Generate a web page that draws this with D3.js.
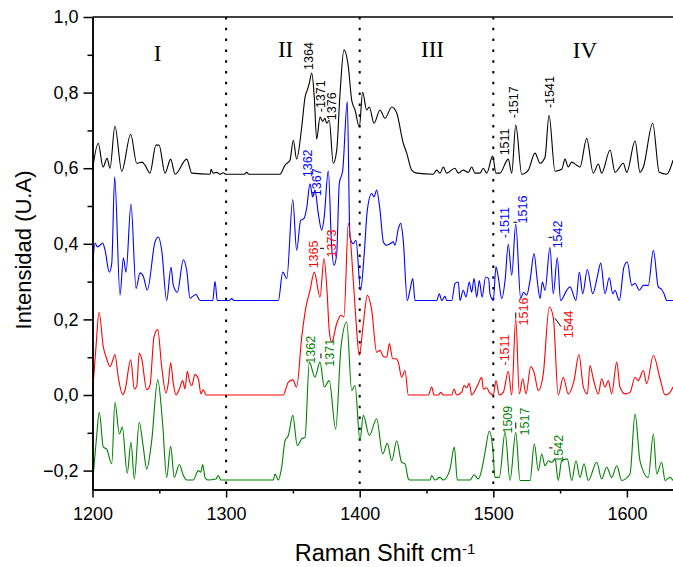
<!DOCTYPE html>
<html>
<head>
<meta charset="utf-8">
<script src="https://cdn.jsdelivr.net/npm/d3@7"></script>
<style>
  body { margin: 0; background: #fff; }
  svg { display: block; font-family: "Liberation Sans", Arial, sans-serif; }
</style>
</head>
<body>
<div id="chart"></div>
<script>
// spectra: [Raman shift (cm-1), intensity (U.A)]
const black = [[1200,0.595],[1204.3,0.666],[1207.9,0.603],[1210.9,0.626],[1213.1,0.600],[1216.8,0.711],[1221.9,0.592],[1228.6,0.690],[1233.1,0.613],[1237.1,0.616],[1239.3,0.608],[1243.0,0.587],[1247.5,0.661],[1249.8,0.661],[1254.3,0.587],[1258.5,0.624],[1261.8,0.584],[1270.5,0.624],[1274.3,0.587],[1288.0,0.584],[1288.7,0.597],[1290.4,0.587],[1293.0,0.589],[1295.4,0.584],[1297.9,0.588],[1299.9,0.584],[1313.4,0.584],[1315.4,0.589],[1317.1,0.584],[1340.3,0.584],[1344.1,0.608],[1347.8,0.621],[1350.3,0.674],[1352.8,0.624],[1356.6,0.709],[1359.1,0.788],[1360.8,0.807],[1362.3,0.825],[1364.1,0.852],[1366.0,0.788],[1367.8,0.677],[1370.3,0.735],[1372.3,0.724],[1374.0,0.732],[1375.3,0.719],[1377.2,0.727],[1380.2,0.613],[1382.8,0.648],[1385.3,0.799],[1388.2,0.913],[1391.5,0.868],[1394.0,0.780],[1396.5,0.754],[1399.7,0.709],[1402.2,0.801],[1405.2,0.754],[1407.2,0.762],[1410.7,0.719],[1415.2,0.754],[1418.9,0.732],[1424.0,0.762],[1427.7,0.746],[1432.6,0.666],[1435.2,0.640],[1438.9,0.595],[1442.7,0.587],[1454.9,0.584],[1457.6,0.595],[1460.1,0.587],[1462.6,0.603],[1465.1,0.587],[1471.3,0.600],[1473.8,0.587],[1477.5,0.595],[1481.3,0.589],[1483.8,0.603],[1486.3,0.587],[1490.0,0.587],[1492.5,0.600],[1495.1,0.587],[1499.5,0.632],[1502.0,0.587],[1504.9,0.587],[1511.2,0.624],[1513.8,0.587],[1516.8,0.714],[1521.3,0.584],[1526.2,0.595],[1531.2,0.640],[1535.0,0.613],[1538.7,0.629],[1541.7,0.740],[1546.2,0.592],[1551.2,0.597],[1553.7,0.624],[1556.1,0.603],[1558.7,0.616],[1562.4,0.608],[1564.9,0.603],[1569.9,0.679],[1574.8,0.587],[1578.6,0.611],[1581.1,0.587],[1587.4,0.648],[1591.1,0.589],[1597.3,0.613],[1599.9,0.589],[1606.1,0.672],[1609.8,0.589],[1612.3,0.603],[1619.3,0.719],[1624.2,0.589],[1629.8,0.584],[1634.5,0.621]];

const blue = [[1200,0.330],[1201.9,0.402],[1203.6,0.392],[1205.6,0.396],[1207.6,0.402],[1209.4,0.383],[1212.6,0.325],[1214.4,0.348],[1216.6,0.577],[1220.6,0.264],[1223.1,0.362],[1225.1,0.325],[1228.8,0.505],[1232.6,0.282],[1235.6,0.323],[1238.0,0.314],[1241.0,0.277],[1246.8,0.405],[1249.3,0.418],[1251.8,0.383],[1255.5,0.250],[1258.8,0.338],[1260.5,0.290],[1263.5,0.272],[1268.0,0.358],[1270.5,0.330],[1273.0,0.256],[1275.0,0.261],[1277.5,0.266],[1280.5,0.250],[1290.0,0.250],[1291.7,0.301],[1293.4,0.250],[1302.2,0.250],[1304.2,0.255],[1305.9,0.250],[1339.1,0.250],[1342.4,0.325],[1343.9,0.317],[1345.4,0.308],[1349.9,0.517],[1352.8,0.383],[1355.8,0.462],[1358.3,0.467],[1360.3,0.494],[1362.8,0.559],[1364.8,0.524],[1366.5,0.542],[1369.0,0.480],[1371.6,0.436],[1373.3,0.467],[1376.5,0.593],[1379.0,0.392],[1380.8,0.343],[1382.8,0.374],[1384.7,0.559],[1387.3,0.595],[1390.7,0.776],[1392.7,0.418],[1395.2,0.400],[1397.2,0.409],[1400.7,0.277],[1403.2,0.365],[1405.7,0.489],[1409.0,0.533],[1410.7,0.524],[1412.7,0.542],[1415.2,0.489],[1417.7,0.405],[1420.2,0.396],[1422.7,0.400],[1425.1,0.405],[1426.4,0.396],[1428.9,0.440],[1430.7,0.454],[1432.6,0.409],[1435.6,0.250],[1437.6,0.277],[1439.7,0.308],[1441.4,0.250],[1457.6,0.250],[1459.6,0.268],[1461.4,0.250],[1463.8,0.261],[1465.1,0.250],[1468.9,0.250],[1471.3,0.295],[1473.8,0.299],[1475.1,0.250],[1477.5,0.277],[1479.6,0.259],[1482.0,0.299],[1483.8,0.272],[1485.6,0.308],[1487.6,0.259],[1489.5,0.303],[1491.6,0.259],[1494.2,0.312],[1496.5,0.308],[1497.5,0.268],[1500.0,0.250],[1502.0,0.339],[1503.7,0.312],[1506.3,0.255],[1508.8,0.303],[1511.2,0.399],[1513.8,0.317],[1516.8,0.452],[1520.5,0.255],[1522.5,0.272],[1525.0,0.264],[1527.5,0.303],[1530.5,0.374],[1532.9,0.303],[1535.0,0.255],[1536.7,0.299],[1538.7,0.277],[1542.4,0.390],[1544.9,0.268],[1547.9,0.363],[1550.4,0.250],[1554.9,0.277],[1557.4,0.286],[1561.9,0.250],[1564.4,0.325],[1566.9,0.268],[1570.4,0.332],[1574.4,0.268],[1577.8,0.312],[1580.4,0.349],[1583.6,0.268],[1586.8,0.310],[1589.4,0.268],[1591.1,0.277],[1594.3,0.250],[1597.8,0.339],[1600.3,0.352],[1603.6,0.290],[1606.1,0.295],[1609.3,0.277],[1612.3,0.290],[1616.0,0.290],[1619.8,0.383],[1623.5,0.286],[1626.0,0.279],[1627.8,0.268],[1629.8,0.250],[1634.5,0.250]];

const red = [[1200,0.005],[1202.6,0.127],[1204.9,0.219],[1208.1,0.127],[1210.6,0.096],[1213.1,0.075],[1215.1,0.091],[1216.8,0.107],[1219.3,0.047],[1222.6,0.001],[1224.3,0.012],[1228.6,0.093],[1231.3,0.016],[1233.1,0.023],[1235.0,0.111],[1236.8,0.096],[1240.6,0.014],[1243.0,0.025],[1246.0,0.153],[1248.8,0.173],[1251.8,0.074],[1255.0,0.005],[1256.7,0.030],[1258.5,0.085],[1260.5,0.030],[1262.5,0.0],[1265.0,0.016],[1267.5,0.038],[1269.2,0.016],[1271.0,0.063],[1272.5,0.038],[1274.3,0.025],[1276.7,0.054],[1279.2,0.043],[1281.2,0.003],[1282.9,0.014],[1285.0,0.0],[1342.8,0.0],[1346.6,0.034],[1349.9,0.040],[1352.8,0.021],[1356.6,0.153],[1359.8,0.233],[1362.8,0.277],[1366.0,0.325],[1370.3,0.259],[1373.3,0.361],[1375.5,0.277],[1377.2,0.171],[1379.0,0.140],[1382.8,0.189],[1386.0,0.211],[1388.2,0.206],[1391.5,0.454],[1395.2,0.303],[1397.2,0.197],[1399.7,0.105],[1402.7,0.189],[1405.7,0.264],[1409.0,0.224],[1412.7,0.113],[1415.2,0.118],[1417.7,0.102],[1420.2,0.100],[1422.2,0.136],[1424.7,0.096],[1427.2,0.096],[1428.9,0.087],[1431.4,0.047],[1433.9,0.065],[1436.4,0.0],[1451.3,0.0],[1453.9,0.021],[1455.6,0.0],[1458.8,0.0],[1460.6,0.007],[1462.6,0.0],[1468.9,0.0],[1470.6,0.016],[1472.6,0.0],[1476.3,0.007],[1478.1,0.025],[1480.1,0.019],[1482.0,0.031],[1483.8,0.0],[1486.3,0.012],[1488.8,0.030],[1491.3,0.047],[1492.5,0.016],[1495.1,0.019],[1497.0,0.007],[1500.0,0.0],[1502.0,0.038],[1504.5,0.0],[1507.5,0.007],[1511.2,0.063],[1513.8,0.0],[1516.8,0.202],[1519.5,0.003],[1522.0,0.043],[1524.5,0.003],[1528.0,0.075],[1530.5,0.060],[1533.7,0.012],[1537.4,0.056],[1541.9,0.233],[1544.9,0.206],[1548.6,0.0],[1552.4,0.047],[1556.1,0.003],[1560.4,0.038],[1564.1,0.107],[1567.4,0.021],[1570.4,0.003],[1572.4,0.078],[1574.8,0.043],[1578.6,0.003],[1581.1,0.043],[1583.6,0.021],[1586.1,0.038],[1588.6,0.003],[1592.4,0.087],[1594.8,0.021],[1598.6,0.003],[1602.3,0.007],[1606.1,0.047],[1608.5,0.038],[1612.3,0.065],[1614.8,0.030],[1619.8,0.105],[1624.8,0.043],[1628.6,0.0],[1632.3,0.007],[1634.5,0.021]];

const green = [[1200,-0.234],[1202.8,-0.121],[1205.1,-0.046],[1208.1,-0.138],[1210.6,-0.143],[1214.4,-0.182],[1216.8,-0.019],[1220.1,-0.103],[1222.3,-0.085],[1226.0,-0.207],[1228.8,-0.125],[1231.3,-0.222],[1235.0,-0.072],[1238.0,-0.138],[1240.6,-0.196],[1244.3,-0.121],[1248.8,0.040],[1252.5,-0.076],[1255.5,-0.218],[1258.5,-0.136],[1261.2,-0.218],[1265.0,-0.184],[1268.0,-0.213],[1270.5,-0.225],[1275.4,-0.225],[1279.2,-0.200],[1281.0,-0.204],[1282.5,-0.184],[1284.2,-0.218],[1286.4,-0.225],[1292.4,-0.222],[1294.2,-0.213],[1296.0,-0.225],[1335.3,-0.225],[1336.6,-0.209],[1339.1,-0.225],[1341.6,-0.191],[1344.1,-0.121],[1346.6,-0.107],[1349.9,-0.054],[1353.3,-0.134],[1356.6,-0.116],[1359.1,-0.112],[1362.3,0.087],[1366.5,0.047],[1370.3,0.087],[1373.5,0.021],[1377.2,0.038],[1382.0,-0.090],[1386.0,0.127],[1390.3,0.193],[1394.0,0.012],[1396.5,0.025],[1400.2,-0.121],[1402.7,-0.054],[1407.2,-0.107],[1412.7,-0.063],[1417.2,-0.156],[1420.7,-0.128],[1424.0,-0.174],[1427.7,-0.121],[1431.4,-0.178],[1433.9,-0.182],[1436.4,-0.222],[1437.6,-0.225],[1452.6,-0.225],[1453.9,-0.213],[1456.4,-0.225],[1460.1,-0.218],[1462.6,-0.225],[1467.6,-0.196],[1470.8,-0.138],[1473.1,-0.225],[1482.6,-0.225],[1485.6,-0.211],[1488.8,-0.222],[1491.5,-0.195],[1493.8,-0.152],[1497.0,-0.096],[1499.5,-0.138],[1501.3,-0.218],[1504.5,-0.218],[1508.8,-0.099],[1512.5,-0.226],[1516.8,-0.099],[1520.0,-0.226],[1527.5,-0.226],[1530.7,-0.129],[1533.7,-0.200],[1536.2,-0.156],[1538.7,-0.187],[1541.2,-0.174],[1543.7,-0.178],[1546.2,-0.169],[1548.6,-0.226],[1551.2,-0.174],[1555.4,-0.169],[1558.7,-0.226],[1561.9,-0.174],[1564.9,-0.218],[1567.9,-0.182],[1571.1,-0.226],[1577.4,-0.178],[1581.1,-0.222],[1584.9,-0.191],[1588.6,-0.218],[1592.4,-0.187],[1596.1,-0.226],[1602.3,-0.209],[1606.1,-0.050],[1609.8,-0.174],[1616.0,-0.218],[1619.8,-0.103],[1622.3,-0.209],[1626.0,-0.178],[1628.6,-0.226],[1632.3,-0.218],[1634.5,-0.226]];

// peak labels: [text, shift, intensity at label foot, colour]
const peakLabels = [
  ["1364", 1362.1, 0.860, "black"], ["-1371", 1371.0, 0.748, "black"], ["1376", 1379.2, 0.727, "black"],
  ["1511", 1508.8, 0.634, "black"], ["-1517", 1515.5, 0.732, "black"], ["-1541", 1542.1, 0.759, "black"],
  ["1362", 1360.9, 0.576, "blue"], ["1367", 1368.0, 0.526, "blue"], ["-1511", 1508.4, 0.415, "blue"],
  ["1516", 1522.2, 0.454, "blue"], ["1542", 1548.4, 0.388, "blue"],
  ["1365", 1365.4, 0.335, "red"], ["1373", 1379.3, 0.364, "red"], ["-1511", 1508.8, 0.078, "red"],
  ["1516", 1522.6, 0.184, "red"], ["1544", 1556.7, 0.150, "red"],
  ["1362", 1363.2, 0.083, "green"], ["1371", 1377.8, 0.075, "green"], ["1509", 1510.6, -0.102, "green"],
  ["1517", 1523.4, -0.107, "green"], ["1542", 1548.8, -0.179, "green"]
];

// short black leader strokes: [x1, y1, x2, y2] in data units
const leaders = [
  [1515.0, 0.457, 1518.0, 0.457], [1541.3, 0.417, 1544.3, 0.417],
  [1370.3, 0.388, 1373.3, 0.388], [1516.8, 0.218, 1516.8, 0.203],
  [1546.2, 0.203, 1550.7, 0.181], [1371.0, 0.110, 1371.0, 0.097],
  [1516.8, -0.073, 1516.8, -0.089], [1541.7, -0.140, 1544.4, -0.140]
];

const regionNames = ["I", "II", "III", "IV"];
const regionPos = [[1248.7, 0.883], [1344.5, 0.894], [1454.5, 0.894], [1568.6, 0.891]];
const dividers = [1300, 1400, 1500];

const xMajor = [1200, 1300, 1400, 1500, 1600];
const xMinor = [1250, 1350, 1450, 1550];
const yMajor = [-0.2, 0, 0.2, 0.4, 0.6, 0.8, 1.0];
const yMinor = [-0.1, 0.1, 0.3, 0.5, 0.7, 0.9];

const series = [
  { name: "black", values: black, color: "#000000" },
  { name: "blue", values: blue, color: "#0000ff" },
  { name: "red", values: red, color: "#ff0000" },
  { name: "green", values: green, color: "#008000" }
];

const width = 673, height = 567;
const svg = d3.select("#chart").append("svg")
  .attr("width", width)
  .attr("height", height);

const x = d3.scaleLinear().domain([1200, 1634.5]).range([92.5, 673]);
const y = d3.scaleLinear().domain([-0.25, 1.0]).range([489.5, 17]);

const fmtY = v => d3.format(".1f")(v).replace(".", ",");

// region dividers
svg.selectAll(".divider")
  .data(dividers)
  .enter().append("line")
  .attr("class", "divider")
  .attr("x1", d => x(d)).attr("x2", d => x(d))
  .attr("y1", y(1.0)).attr("y2", y(-0.25))
  .attr("stroke", "#000")
  .attr("stroke-width", 2)
  .attr("stroke-dasharray", "2.5,8.3");

// spectra
const line = d3.line()
  .x(d => x(d[0]))
  .y(d => y(d[1]))
  .curve(d3.curveMonotoneX);

svg.selectAll(".spectrum")
  .data(series)
  .enter().append("path")
  .attr("class", "spectrum")
  .attr("fill", "none")
  .attr("stroke", d => d.color)
  .attr("stroke-width", 1.1)
  .attr("d", d => line(d.values));

// axes
svg.append("g")
  .attr("transform", "translate(" + x(1200) + ",0)")
  .call(d3.axisLeft(y).tickValues(yMajor).tickSize(9).tickSizeOuter(0).tickPadding(5).tickFormat(fmtY));
svg.append("g")
  .attr("transform", "translate(" + x(1200) + ",0)")
  .call(d3.axisLeft(y).tickValues(yMinor).tickSize(5).tickSizeOuter(0).tickFormat(""));

svg.append("g")
  .attr("transform", "translate(0," + y(-0.25) + ")")
  .call(d3.axisBottom(x).tickValues(xMajor).tickSize(8).tickSizeOuter(0).tickPadding(10).tickFormat(d3.format("d")));
svg.append("g")
  .attr("transform", "translate(0," + y(-0.25) + ")")
  .call(d3.axisBottom(x).tickValues(xMinor).tickSize(4).tickSizeOuter(0).tickFormat(""));

svg.selectAll(".domain, .tick line").attr("stroke", "#000").attr("stroke-width", 1.5);
svg.selectAll(".tick text")
  .attr("fill", "#000")
  .style("font-family", "'Liberation Sans', Arial, sans-serif")
  .style("font-size", "18px");

// top frame
svg.append("line")
  .attr("x1", x(1200)).attr("x2", width)
  .attr("y1", y(1.0)).attr("y2", y(1.0))
  .attr("stroke", "#000")
  .attr("stroke-width", 1.5);

// region numerals
svg.selectAll(".region")
  .data(regionNames)
  .enter().append("text")
  .attr("class", "region")
  .attr("x", (d, i) => x(regionPos[i][0]))
  .attr("y", (d, i) => y(regionPos[i][1]))
  .attr("text-anchor", "middle")
  .style("font-family", "'Liberation Serif', 'Times New Roman', serif")
  .style("font-size", "23px")
  .text(d => d);

// peak labels (rotated)
const colorOf = { black: "#000000", blue: "#0000ff", red: "#ff0000", green: "#008000" };
svg.selectAll(".peak")
  .data(peakLabels)
  .enter().append("text")
  .attr("class", "peak")
  .attr("transform", d => "translate(" + x(d[1]) + "," + y(d[2]) + ") rotate(-90)")
  .attr("dy", "0.35em")
  .attr("fill", d => colorOf[d[3]])
  .style("font-size", "12.5px")
  .text(d => d[0]);

svg.selectAll(".leader")
  .data(leaders)
  .enter().append("line")
  .attr("class", "leader")
  .attr("x1", d => x(d[0])).attr("y1", d => y(d[1]))
  .attr("x2", d => x(d[2])).attr("y2", d => y(d[3]))
  .attr("stroke", "#000")
  .attr("stroke-width", 1);

// axis titles
svg.append("text")
  .attr("transform", "translate(31,250) rotate(-90)")
  .attr("text-anchor", "middle")
  .style("font-size", "22px")
  .text("Intensidad (U.A)");

const xt = svg.append("text")
  .attr("x", 385)
  .attr("y", 561)
  .attr("text-anchor", "middle")
  .style("font-size", "23.5px");
xt.append("tspan").text("Raman Shift cm");
xt.append("tspan").attr("dy", "-0.5em").style("font-size", "15px").text("-1");
</script>
</body>
</html>
